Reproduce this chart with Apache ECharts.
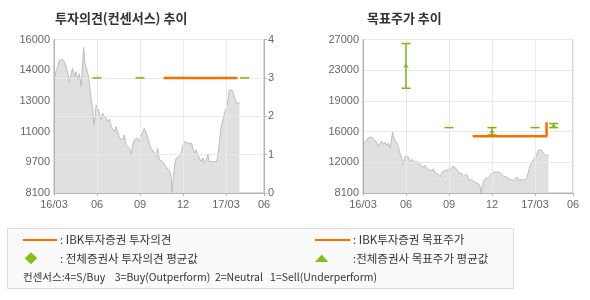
<!DOCTYPE html>
<html><head><meta charset="utf-8">
<script src="https://cdn.jsdelivr.net/npm/echarts@6/dist/echarts.min.js"></script>
<style>html,body{margin:0;padding:0;background:#fff}#c{width:590px;height:300px}</style>
</head><body><div id="c"></div>
<script>
// ---- data ----
const priceDates = ['2016-03-02','2016-03-06','2016-03-09','2016-03-13','2016-03-17','2016-03-20','2016-03-24','2016-03-28','2016-03-31',
'2016-04-03','2016-04-07','2016-04-10','2016-04-14','2016-04-17','2016-04-21','2016-04-24','2016-04-28',
'2016-05-01','2016-05-03','2016-05-06','2016-05-10','2016-05-14','2016-05-17','2016-05-20','2016-05-23','2016-05-25','2016-05-28','2016-05-30',
'2016-06-03','2016-06-06','2016-06-10','2016-06-13','2016-06-17','2016-06-20','2016-06-24','2016-06-27',
'2016-07-01','2016-07-04','2016-07-08','2016-07-11','2016-07-15','2016-07-19','2016-07-22','2016-07-26','2016-07-29',
'2016-08-02','2016-08-06','2016-08-09','2016-08-13','2016-08-16','2016-08-20','2016-08-24','2016-08-27','2016-08-31',
'2016-09-03','2016-09-07','2016-09-10','2016-09-14','2016-09-17','2016-09-21','2016-09-24','2016-09-28',
'2016-10-01','2016-10-05','2016-10-08','2016-10-12','2016-10-16','2016-10-19','2016-10-23','2016-10-26','2016-10-30',
'2016-11-03','2016-11-06','2016-11-08','2016-11-11','2016-11-14','2016-11-17','2016-11-20','2016-11-24','2016-11-27',
'2016-12-01','2016-12-04','2016-12-08','2016-12-11','2016-12-15','2016-12-19','2016-12-22','2016-12-26','2016-12-29',
'2017-01-02','2017-01-06','2017-01-09','2017-01-13','2017-01-16','2017-01-20','2017-01-24','2017-01-27','2017-01-31',
'2017-02-03','2017-02-06','2017-02-10','2017-02-13','2017-02-16','2017-02-19','2017-02-23','2017-02-26',
'2017-03-01','2017-03-05','2017-03-08','2017-03-11','2017-03-14','2017-03-17','2017-03-20','2017-03-24','2017-03-27','2017-03-30'];
const prices = [13990,14430,14600,14940,14850,14970,14850,14500,14250,
13830,14250,14510,14080,14340,13910,14250,13570,
14850,15590,14770,14850,14080,13400,12800,12370,11600,12030,12630,
12460,12550,11860,12200,12030,11950,11780,11900,
11520,11600,11260,11520,11430,10920,11010,10840,11090,
10580,10670,10410,10070,10580,10840,10920,10920,10750,
11010,10920,11430,11350,11010,10580,10410,10500,
10150,9980,10410,9810,9900,9720,9640,9470,9380,
9210,8950,8130,8950,9640,9900,9980,9980,10150,
10580,10750,10670,10670,10700,10670,10410,10150,10320,
10070,10010,9720,9900,9640,9810,10070,9720,9640,
9720,9640,9720,9980,10670,11430,11860,12200,
12460,12800,13400,13490,13400,13230,12970,12720,12800,12750];

const xTickLabels = ['16/03','06','09','12','17/03','06'];
const opinionTickLabels = ['0','1','2','3','4'];
const leftPriceTickLabels = ['8100','9700','11000','13000','14000','16000'];
const rightPriceTickLabels = ['8100','12000','16000','19000','23000','27000'];

const ibkOpinionDates = ['2016-10-21','2017-03-26'];
const ibkOpinion = [3,3];
const consensusDates = ['2016-06-01','2016-09-01','2016-12-01','2017-03-01','2017-04-10'];
const consensusOpinion = [3,3,3,3,3];
const ibkTargetDates = ['2016-10-21','2017-03-26','2017-03-26'];
const ibkTarget = [15100,15100,16800];
const consensusTargetAvg = [23800,null,15700,null,16400];
const consensusTargetHigh = [26500,16150,16150,16150,16650];
const consensusTargetLow = [21000,16150,15250,16150,16150];

// ---- helpers ----
function toMonth(s){const p=s.split('-').map(Number);const dim=new Date(p[0],p[1],0).getDate();return (p[0]-2016)*12+(p[1]-3)+(p[2]-1)/dim;}
const ORANGE='#f57200', GREEN='#7db414', AXIS='#b4b4b4', GRID='#e9e9e9', LABEL='#666';
const FONT='"Liberation Sans", Arial, sans-serif';
const KFONT='"Noto Sans CJK KR", sans-serif';

const priceData = priceDates.map((d,i)=>[toMonth(d),prices[i]]);

function xAxisCfg(gridIndex){
  return {type:'value',gridIndex,min:0,max:14.65,interval:3,z:3,
    axisLine:{lineStyle:{color:AXIS}},
    axisTick:{show:true,length:3,lineStyle:{color:AXIS}},
    splitLine:{show:true,lineStyle:{color:GRID}},
    axisLabel:{color:LABEL,fontFamily:FONT,fontSize:11,margin:6,showMinLabel:true,showMaxLabel:true,
      formatter:v=>xTickLabels[Math.round(v/3)]}};
}

const chart = echarts.init(document.getElementById('c'),null,{renderer:'canvas'});
const option = {
  animation:false,
  backgroundColor:'#fff',
  grid:[
    {left:54,top:39.5,width:210,height:153.5,show:true,borderColor:AXIS,borderWidth:1,backgroundColor:'#fff'},
    {left:363,top:39.5,width:210,height:153.5,show:true,borderColor:AXIS,borderWidth:1,backgroundColor:'#fff'}
  ],
  xAxis:[xAxisCfg(0),xAxisCfg(1)],
  yAxis:[
    {type:'value',gridIndex:0,min:8100,max:16000,interval:1580,z:3,
      axisLine:{show:true,lineStyle:{color:AXIS}},axisTick:{show:false},splitLine:{show:false},
      axisLabel:{color:LABEL,fontFamily:FONT,fontSize:11,margin:4,showMinLabel:true,showMaxLabel:true,
        formatter:v=>leftPriceTickLabels[Math.round((v-8100)/1580)]}},
    {type:'value',gridIndex:0,position:'right',min:0,max:4,interval:1,z:3,
      axisLine:{show:true,lineStyle:{color:AXIS}},axisTick:{show:true,length:3,lineStyle:{color:AXIS}},
      splitLine:{show:true,lineStyle:{color:GRID}},
      axisLabel:{color:LABEL,fontFamily:FONT,fontSize:11,margin:4,formatter:v=>opinionTickLabels[Math.round(v)]}},
    {type:'value',gridIndex:1,min:8100,max:27000,interval:3780,z:3,
      axisLine:{show:true,lineStyle:{color:AXIS}},axisTick:{show:false},
      splitLine:{show:true,lineStyle:{color:GRID}},
      axisLabel:{color:LABEL,fontFamily:FONT,fontSize:11,margin:4,showMinLabel:true,showMaxLabel:true,
        formatter:v=>rightPriceTickLabels[Math.round((v-8100)/3780)]}}
  ],
  series:[
    {type:'line',xAxisIndex:0,yAxisIndex:0,data:priceData,showSymbol:false,z:2,
      lineStyle:{color:'#bdbdbd',width:1},areaStyle:{color:'#e0e0e0',origin:'start',opacity:1}},
    {type:'line',xAxisIndex:1,yAxisIndex:2,data:priceData,showSymbol:false,z:2,
      lineStyle:{color:'#bdbdbd',width:1},areaStyle:{color:'#e0e0e0',origin:'start',opacity:1}},
    {type:'scatter',xAxisIndex:0,yAxisIndex:1,z:5,symbol:'rect',symbolSize:[9,2],
      itemStyle:{color:GREEN},data:consensusDates.map((d,i)=>[toMonth(d),consensusOpinion[i]])},
    {type:'line',xAxisIndex:0,yAxisIndex:1,z:6,showSymbol:false,
      lineStyle:{color:ORANGE,width:2.5},data:ibkOpinionDates.map((d,i)=>[toMonth(d),ibkOpinion[i]])},
    {type:'custom',xAxisIndex:1,yAxisIndex:2,z:5,
      data:consensusDates.map((d,i)=>[toMonth(d),consensusTargetHigh[i],consensusTargetLow[i]]),
      renderItem:function(params,api){
        const x=api.value(0),hi=api.value(1),lo=api.value(2);
        const a=api.coord([x,hi]),b=api.coord([x,lo]);const hw=4.5;
        const st={stroke:GREEN,lineWidth:1.5};
        const ch=[{type:'line',shape:{x1:a[0]-hw,y1:a[1],x2:a[0]+hw,y2:a[1]},style:st}];
        if(hi!==lo){
          ch.push({type:'line',shape:{x1:a[0],y1:a[1],x2:b[0],y2:b[1]},style:st});
          ch.push({type:'line',shape:{x1:b[0]-hw,y1:b[1],x2:b[0]+hw,y2:b[1]},style:st});
        }
        return {type:'group',children:ch};
      }},
    {type:'scatter',xAxisIndex:1,yAxisIndex:2,z:6,symbol:'triangle',symbolSize:[6,4],
      itemStyle:{color:GREEN},
      data:consensusDates.map((d,i)=>[toMonth(d),consensusTargetAvg[i]]).filter(p=>p[1]!=null)},
    {type:'line',xAxisIndex:1,yAxisIndex:2,z:7,showSymbol:false,
      lineStyle:{color:ORANGE,width:2.5},data:ibkTargetDates.map((d,i)=>[toMonth(d),ibkTarget[i]])}
  ],
  graphic:[
    {type:'text',left:55,top:12,style:{text:'투자의견(컨센서스) 추이',font:'bold 13px '+KFONT,fill:'#333'}},
    {type:'text',left:367,top:12,style:{text:'목표주가 추이',font:'bold 13px '+KFONT,fill:'#333'}},
    {type:'rect',shape:{x:7.5,y:228.5,width:506,height:60},style:{fill:'#fafafa',stroke:'#dcdcdc',lineWidth:1}},
    {type:'line',shape:{x1:23,y1:240,x2:57,y2:240},style:{stroke:ORANGE,lineWidth:2}},
    {type:'text',x:60,y:240,style:{text:': IBK투자증권 투자의견',font:'11.5px '+KFONT,fill:'#333',verticalAlign:'middle'}},
    {type:'line',shape:{x1:315,y1:240,x2:350,y2:240},style:{stroke:ORANGE,lineWidth:2}},
    {type:'text',x:353,y:240,style:{text:': IBK투자증권 목표주가',font:'11.5px '+KFONT,fill:'#333',verticalAlign:'middle'}},
    {type:'polygon',shape:{points:[[31,252.3],[37.3,258.3],[31,264.3],[24.7,258.3]]},style:{fill:'#84bf1c'}},
    {type:'text',x:60,y:258.3,style:{text:': 전체증권사 투자의견 평균값',font:'11.5px '+KFONT,fill:'#333',verticalAlign:'middle'}},
    {type:'polygon',shape:{points:[[321.7,254.5],[328.3,262],[315,262]]},style:{fill:'#84bf1c'}},
    {type:'text',x:353,y:258.3,style:{text:':전체증권사 목표주가 평균값',font:'11.5px '+KFONT,fill:'#333',verticalAlign:'middle'}},
    {type:'text',x:23,y:276.7,style:{text:'컨센서스:4=S/Buy    3=Buy(Outperform)  2=Neutral   1=Sell(Underperform)',font:'10.5px '+KFONT,fill:'#333',verticalAlign:'middle'}}
  ]
};
chart.setOption(option);
</script>
</body></html>
